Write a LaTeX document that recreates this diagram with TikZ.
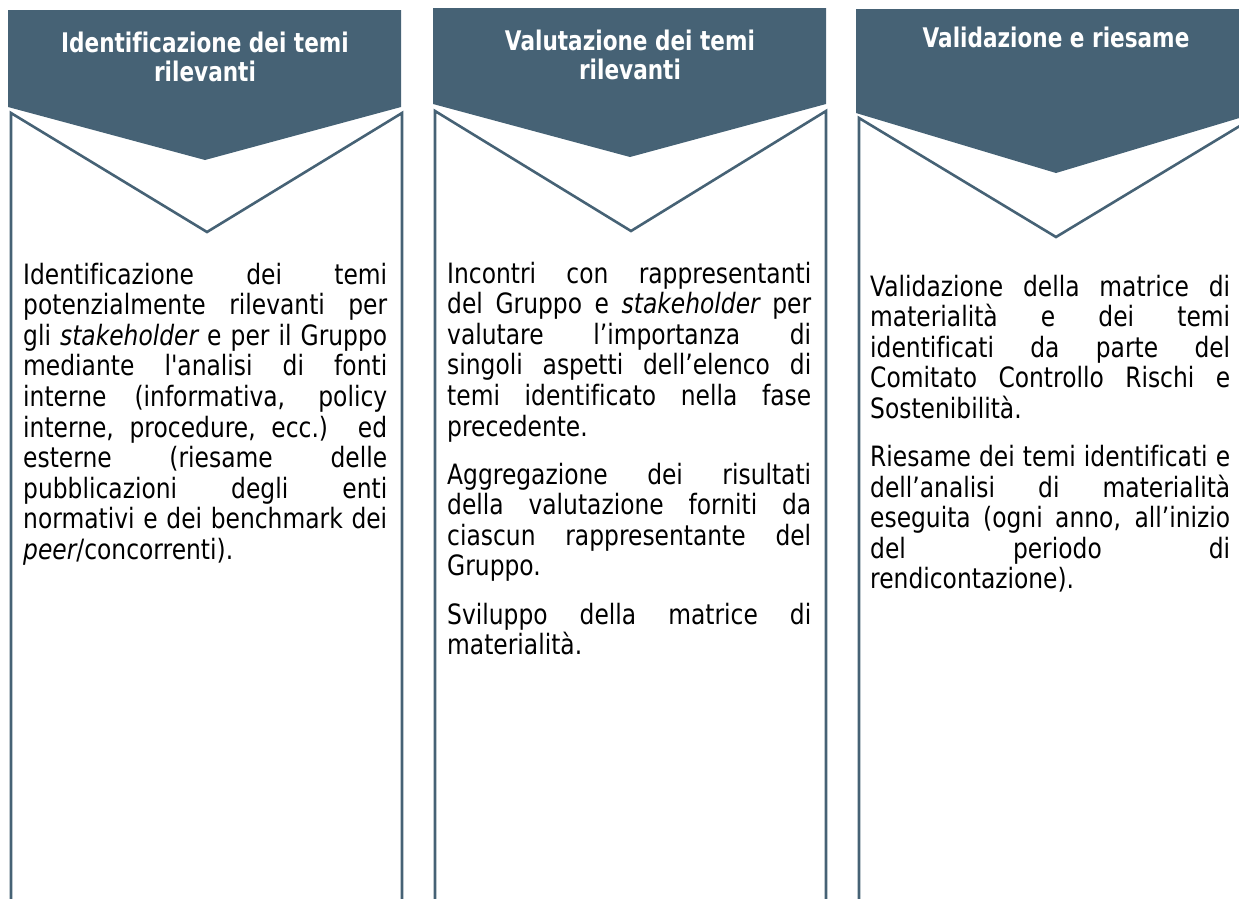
\documentclass[tikz,border=0pt]{standalone}
\usepackage{fontspec}
\newfontfamily\bodyfont{DejaVu Sans}[FakeStretch=0.835,Ligatures=NoCommon]
\newfontfamily\headfont{DejaVu Sans Bold}[FakeStretch=0.8,Ligatures=NoCommon]
\definecolor{hdr}{RGB}{70,98,117}
\hbadness=10000
\newcommand\justl[1]{\hbox to\hsize{#1}}
\newcommand\lastl[1]{\hbox{#1}}
\newcommand\centl[1]{\hbox to\hsize{\hfil#1\hfil}}
\newcommand\pargap{\vskip17.5pt}
\tikzset{
  hdrbox/.style={fill=hdr},
  outl/.style={draw=hdr,line width=2.6pt,line join=miter},
  bodytxt/.style={anchor=base west,inner sep=0pt,text=black,font=\bodyfont\fontsize{28}{30.6}\selectfont},
  hdrtxt/.style={anchor=base,inner sep=0pt,text=white,font=\headfont\fontsize{27}{29.5}\selectfont}
}
\begin{document}
\begin{tikzpicture}[x=1pt,y=-1pt]
\useasboundingbox (0,0) rectangle (1239,898);
\clip (0,0) rectangle (1239,898);
% column 1
\fill[hdrbox] (8,10) -- (401,10) -- (401,107) -- (205,160) -- (8,107) -- cycle;
\draw[outl] (11,900) -- (11,113) -- (207,232) -- (402,113) -- (402,900);
% column 2
\fill[hdrbox] (433,8) -- (826,8) -- (826,104) -- (630,157) -- (433,104) -- cycle;
\draw[outl] (435,900) -- (435,111) -- (631,231) -- (826,111) -- (826,900);
% column 3
\fill[hdrbox] (856,9) -- (1256,9) -- (1256,113) -- (1056,173) -- (856,113) -- cycle;
\draw[outl] (859,900) -- (859,118) -- (1056,237) -- (1253,118) -- (1253,900);
% headers
\node[hdrtxt] (h1) at (205,52) {\vtop{\hsize=390pt \centl{Identificazione dei temi}\centl{rilevanti}}};
\node[hdrtxt] (h2) at (630,50) {\vtop{\hsize=390pt \centl{Valutazione dei temi}\centl{rilevanti}}};
\node[hdrtxt] (h3) at (1056,47) {\vtop{\hsize=390pt \centl{Validazione e riesame}}};
% body column 1
\node[bodytxt] (b1) at (23,284) {\vtop{\hsize=364pt
\justl{Identificazione dei temi}
\justl{potenzialmente rilevanti per}
\justl{gli {\itshape stakeholder} e per il Gruppo}
\justl{mediante l'analisi di fonti}
\justl{interne (informativa, policy}
\justl{interne, procedure, ecc.) ed}
\justl{esterne (riesame delle}
\justl{pubblicazioni degli enti}
\justl{normativi e dei benchmark dei}
\lastl{{\itshape peer}/concorrenti).}}};
% body column 2
\node[bodytxt] (b2) at (447,283) {\vtop{\hsize=364pt
\justl{Incontri con rappresentanti}
\justl{del Gruppo e {\itshape stakeholder} per}
\justl{valutare l’importanza di}
\justl{singoli aspetti dell’elenco di}
\justl{temi identificato nella fase}
\lastl{precedente.}
\pargap
\justl{Aggregazione dei risultati}
\justl{della valutazione forniti da}
\justl{ciascun rappresentante del}
\lastl{Gruppo.}
\pargap
\justl{Sviluppo della matrice di}
\lastl{materialità.}}};
% body column 3
\node[bodytxt] (b3) at (870,296) {\vtop{\hsize=360pt
\justl{Validazione della matrice di}
\justl{materialità e dei temi}
\justl{identificati da parte del}
\justl{Comitato Controllo Rischi e}
\lastl{Sostenibilità.}
\pargap
\justl{Riesame dei temi identificati e}
\justl{dell’analisi di materialità}
\justl{eseguita (ogni anno, all’inizio}
\justl{del periodo di}
\lastl{rendicontazione).}}};
\end{tikzpicture}
\end{document}
